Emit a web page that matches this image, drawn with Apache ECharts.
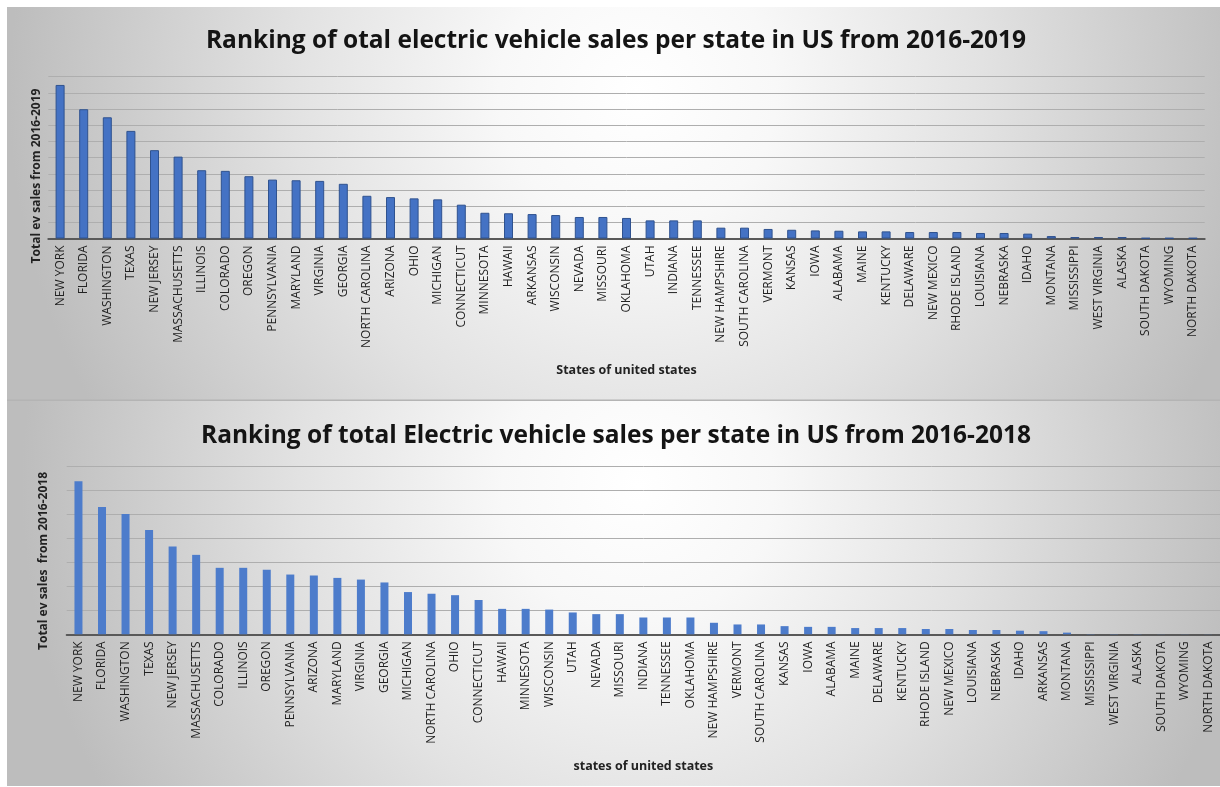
<!DOCTYPE html>
<html>
<head>
<meta charset="utf-8">
<title>Electric vehicle sales ranking by state</title>
<script src="https://cdn.jsdelivr.net/npm/echarts@6/dist/echarts.min.js"></script>
<style>
  html, body { margin: 0; padding: 0; background: #ffffff; }
  #chart { width: 1220px; height: 787px; }
</style>
</head>
<body>
<div id="chart"></div>
<script>
// Cumulative EV sales by state, 2016-2019 (thousands, sorted high to low)
const states2019 = [
  'NEW YORK', 'FLORIDA', 'WASHINGTON', 'TEXAS', 'NEW JERSEY', 'MASSACHUSETTS',
  'ILLINOIS', 'COLORADO', 'OREGON', 'PENNSYLVANIA', 'MARYLAND', 'VIRGINIA',
  'GEORGIA', 'NORTH CAROLINA', 'ARIZONA', 'OHIO', 'MICHIGAN', 'CONNECTICUT',
  'MINNESOTA', 'HAWAII', 'ARKANSAS', 'WISCONSIN', 'NEVADA', 'MISSOURI',
  'OKLAHOMA', 'UTAH', 'INDIANA', 'TENNESSEE', 'NEW HAMPSHIRE', 'SOUTH CAROLINA',
  'VERMONT', 'KANSAS', 'IOWA', 'ALABAMA', 'MAINE', 'KENTUCKY', 'DELAWARE',
  'NEW MEXICO', 'RHODE ISLAND', 'LOUISIANA', 'NEBRASKA', 'IDAHO', 'MONTANA',
  'MISSISSIPPI', 'WEST VIRGINIA', 'ALASKA', 'SOUTH DAKOTA', 'WYOMING', 'NORTH DAKOTA'
];
const sales2019 = [
  9.49, 7.99, 7.49, 6.65, 5.46, 5.06,
  4.22, 4.18, 3.85, 3.64, 3.60, 3.56,
  3.38, 2.64, 2.56, 2.48, 2.42, 2.09,
  1.59, 1.56, 1.51, 1.45, 1.33, 1.33,
  1.27, 1.12, 1.12, 1.12, 0.67, 0.67,
  0.59, 0.54, 0.50, 0.48, 0.44, 0.44, 0.40,
  0.40, 0.40, 0.34, 0.34, 0.30, 0.15,
  0.09, 0.09, 0.09, 0.03, 0.03, 0.03
];

// Cumulative EV sales by state, 2016-2018 (thousands, sorted high to low)
const states2018 = [
  'NEW YORK', 'FLORIDA', 'WASHINGTON', 'TEXAS', 'NEW JERSEY', 'MASSACHUSETTS',
  'COLORADO', 'ILLINOIS', 'OREGON', 'PENNSYLVANIA', 'ARIZONA', 'MARYLAND',
  'VIRGINIA', 'GEORGIA', 'MICHIGAN', 'NORTH CAROLINA', 'OHIO', 'CONNECTICUT',
  'HAWAII', 'MINNESOTA', 'WISCONSIN', 'UTAH', 'NEVADA', 'MISSOURI',
  'INDIANA', 'TENNESSEE', 'OKLAHOMA', 'NEW HAMPSHIRE', 'VERMONT', 'SOUTH CAROLINA',
  'KANSAS', 'IOWA', 'ALABAMA', 'MAINE', 'DELAWARE', 'KENTUCKY', 'RHODE ISLAND',
  'NEW MEXICO', 'LOUISIANA', 'NEBRASKA', 'IDAHO', 'ARKANSAS', 'MONTANA',
  'MISSISSIPPI', 'WEST VIRGINIA', 'ALASKA', 'SOUTH DAKOTA', 'WYOMING', 'NORTH DAKOTA'
];
const sales2018 = [
  6.38, 5.30, 5.01, 4.35, 3.66, 3.31,
  2.77, 2.77, 2.69, 2.49, 2.45, 2.35,
  2.28, 2.16, 1.76, 1.69, 1.63, 1.43,
  1.06, 1.06, 1.03, 0.91, 0.84, 0.84,
  0.70, 0.70, 0.70, 0.48, 0.41, 0.41,
  0.34, 0.31, 0.31, 0.26, 0.26, 0.26, 0.22,
  0.22, 0.18, 0.18, 0.15, 0.13, 0.07,
  0.01, 0.01, 0.01, 0.005, 0.005, 0.005
];

const titleTop = 'Ranking of otal electric vehicle sales per state in US from 2016-2019';
const titleBottom = 'Ranking of total Electric vehicle sales per state in US from 2016-2018';
const yTitleTop = 'Total ev sales from 2016-2019';
const yTitleBottom = 'Total ev sales  from 2016-2018';
const xTitleTop = 'States of united states';
const xTitleBottom = 'states of united states';

const FONT = '"Open Sans", "Liberation Sans", sans-serif';

function panelFill() {
  return new echarts.graphic.RadialGradient(0.52, 0.22, 1.6, [
    { offset: 0, color: '#ffffff' },
    { offset: 0.22, color: '#f8f8f8' },
    { offset: 0.55, color: '#e2e2e2' },
    { offset: 1, color: '#bdbdbd' }
  ]);
}

function categoryAxis(gridIndex, data, name, nameGap) {
  return {
    type: 'category',
    gridIndex: gridIndex,
    data: data,
    axisTick: { show: false },
    axisLine: { lineStyle: { color: '#595959', width: 2 } },
    axisLabel: {
      rotate: 90,
      interval: 0,
      margin: 7,
      color: '#222222',
      fontFamily: FONT,
      fontSize: 12
    },
    name: name,
    nameLocation: 'middle',
    nameGap: nameGap,
    nameTextStyle: {
      color: '#222222',
      fontFamily: FONT,
      fontWeight: 'bold',
      fontSize: 12.5
    }
  };
}

function valueAxis(gridIndex, max) {
  return {
    type: 'value',
    gridIndex: gridIndex,
    min: 0,
    max: max,
    interval: 1,
    axisLabel: { show: false },
    axisLine: { show: false },
    axisTick: { show: false },
    splitLine: { lineStyle: { color: '#aeaeae', width: 1 } }
  };
}

const chart = echarts.init(document.getElementById('chart'), null, { renderer: 'canvas' });

chart.setOption({
  animation: false,
  backgroundColor: '#ffffff',
  graphic: [
    {
      type: 'rect', z: -100, silent: true,
      shape: { x: 7, y: 7, width: 1213, height: 393 },
      style: { fill: panelFill() }
    },
    {
      type: 'rect', z: -100, silent: true,
      shape: { x: 7, y: 401, width: 1213, height: 385 },
      style: { fill: panelFill() }
    },
    {
      type: 'rect', z: -99, silent: true,
      shape: { x: 7, y: 399.5, width: 1213, height: 1.5 },
      style: { fill: '#b4b4b4' }
    },
    {
      type: 'text', z: 10, silent: true,
      x: 37, y: 176, rotation: Math.PI / 2,
      style: {
        text: yTitleTop, align: 'center', verticalAlign: 'middle',
        fill: '#222222', font: 'bold 12px ' + FONT
      }
    },
    {
      type: 'text', z: 10, silent: true,
      x: 44, y: 561, rotation: Math.PI / 2,
      style: {
        text: yTitleBottom, align: 'center', verticalAlign: 'middle',
        fill: '#222222', font: 'bold 12px ' + FONT
      }
    }
  ],
  title: [
    {
      text: titleTop,
      left: 616, top: 29, padding: 0, textAlign: 'center',
      textStyle: { fontFamily: FONT, fontWeight: 'bold', fontSize: 24.5, color: '#141414' }
    },
    {
      text: titleBottom,
      left: 616, top: 424, padding: 0, textAlign: 'center',
      textStyle: { fontFamily: FONT, fontWeight: 'bold', fontSize: 24.5, color: '#141414' }
    }
  ],
  grid: [
    { left: 48.3, top: 76.7, width: 1156.4, height: 161.8 },
    { left: 66.7, top: 466.3, width: 1156.4, height: 168 }
  ],
  xAxis: [
    categoryAxis(0, states2019, xTitleTop, 125),
    categoryAxis(1, states2018, xTitleBottom, 126)
  ],
  yAxis: [
    valueAxis(0, 10),
    valueAxis(1, 7)
  ],
  series: [
    {
      type: 'bar',
      xAxisIndex: 0,
      yAxisIndex: 0,
      data: sales2019,
      barWidth: 9,
      itemStyle: { color: '#4472C4', borderColor: '#2F528F', borderWidth: 1 }
    },
    {
      type: 'bar',
      xAxisIndex: 1,
      yAxisIndex: 1,
      data: sales2018,
      barWidth: 8,
      itemStyle: { color: '#4D7CCB' }
    }
  ]
});
</script>
</body>
</html>
